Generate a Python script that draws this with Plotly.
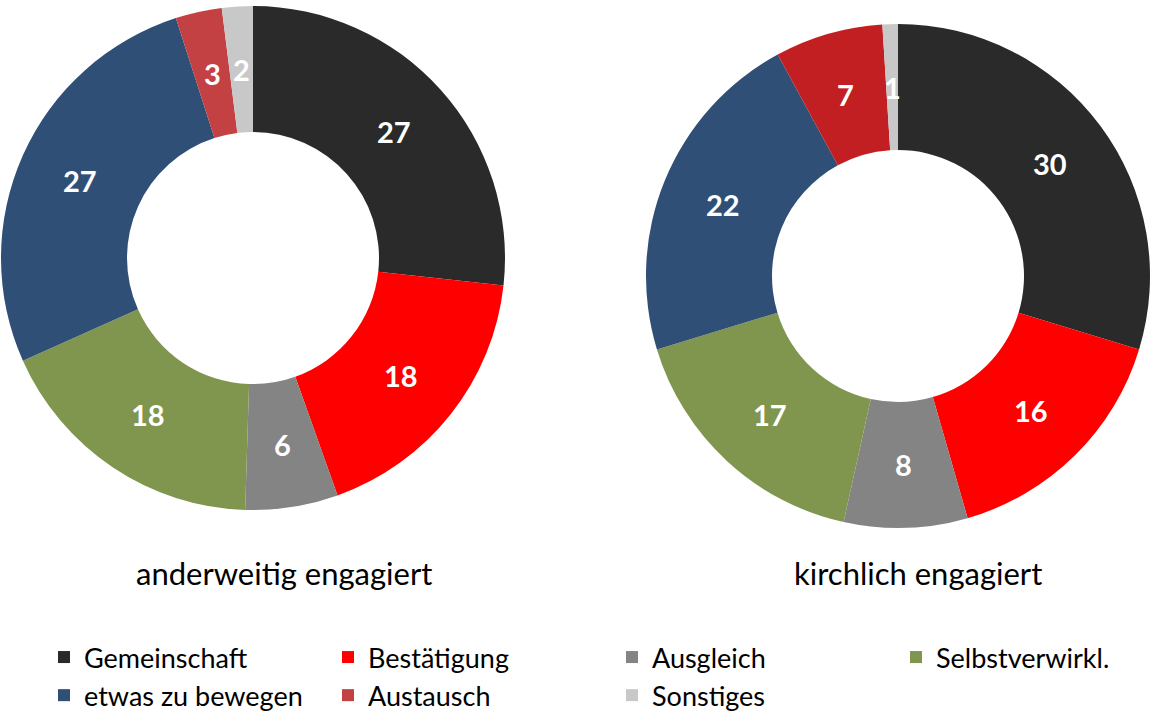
import math
import plotly.graph_objects as go

categories = ["Gemeinschaft", "Bestätigung", "Ausgleich", "Selbstverwirkl.",
              "etwas zu bewegen", "Austausch", "Sonstiges"]
values_anderweitig = [27, 18, 6, 18, 27, 3, 2]
values_kirchlich = [30, 16, 8, 17, 22, 7, 1]
titles = ["anderweitig engagiert", "kirchlich engagiert"]

colors_left = ["#2A2A2A", "#FF0000", "#848484", "#80964E", "#2F4F77", "#C34143", "#C8C8C8"]
colors_right = ["#2A2A2A", "#FF0000", "#848484", "#80964E", "#2F4F77", "#C21F22", "#C8C8C8"]

W, H = 1154, 714
HOLE = 0.5
R = 252
centers = [(253, 258), (898, 276)]
title_pos = [(284, 573), (918, 573)]


def dom(cx, cy, r):
    return dict(x=[(cx - r) / W, (cx + r) / W], y=[1 - (cy + r) / H, 1 - (cy - r) / H])


fig = go.Figure()
for vals, cols, (cx, cy) in [(values_anderweitig, colors_left, centers[0]),
                             (values_kirchlich, colors_right, centers[1])]:
    fig.add_trace(go.Pie(
        labels=categories, values=vals, hole=HOLE, sort=False,
        direction="clockwise", rotation=0,
        marker=dict(colors=cols, line=dict(width=0)),
        textinfo="none",
        domain=dom(cx, cy, R), showlegend=True,
    ))
    # value labels at mid-ring, mid-angle of each slice (derived from the data)
    total = sum(vals)
    cum = 0
    rmid = R * (1 + HOLE) / 2
    for v in vals:
        ang = (cum + v / 2) / total * 2 * math.pi
        cum += v
        px = cx + rmid * math.sin(ang)
        py = cy - rmid * math.cos(ang)
        fig.add_annotation(text=str(v), x=px / W, y=1 - py / H, xref="paper", yref="paper",
                           xanchor="center", yanchor="middle", showarrow=False,
                           font=dict(family="Lato", size=29, color="white", weight="bold"))

for t, (tx, ty) in zip(titles, title_pos):
    fig.add_annotation(text=t, x=tx / W, y=1 - ty / H, xref="paper", yref="paper",
                       xanchor="center", yanchor="middle", showarrow=False,
                       font=dict(family="Lato", size=31, color="black"))

fig.update_layout(
    width=W, height=H,
    margin=dict(l=0, r=0, t=0, b=0, autoexpand=False),
    paper_bgcolor="white", plot_bgcolor="white",
    legend=dict(orientation="h", x=44 / W, xanchor="left", y=1 - 633 / H, yanchor="top",
                entrywidth=239, entrywidthmode="pixels", traceorder="normal",
                font=dict(family="Lato", size=27, color="black")),
)

fig.write_html("out.html", config={"displayModeBar": False},
               post_script="document.body.style.margin='0';")
